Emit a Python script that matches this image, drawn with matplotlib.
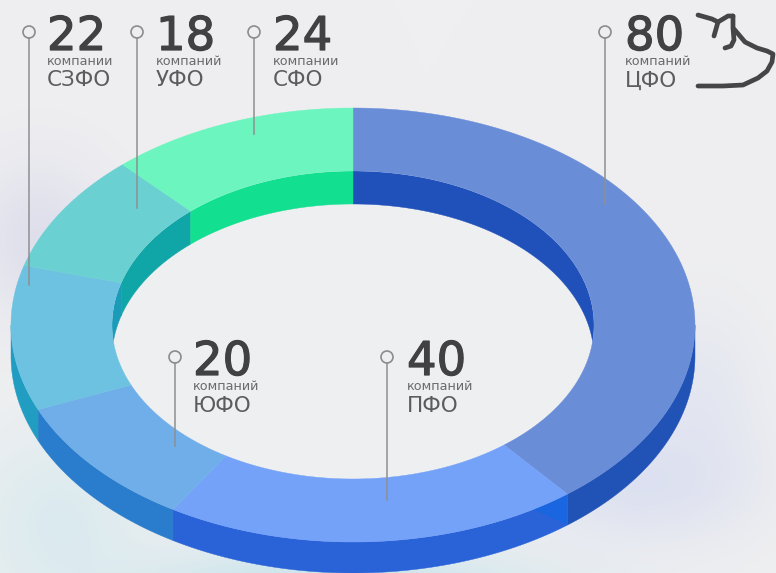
import matplotlib
matplotlib.use("Agg")
import matplotlib.pyplot as plt
import matplotlib.patheffects as pe
from matplotlib.patches import Polygon, Ellipse
import numpy as np

# clockwise from the top of the ring
regions = ["ЦФО", "ПФО", "ЮФО", "СЗФО", "УФО", "СФО"]
companies = [80, 40, 20, 22, 18, 24]
unit_words = ["компаний", "компаний", "компаний", "компании", "компаний", "компании"]

top_colors = ["#6a8dd8", "#74a2f9", "#70aeea", "#6cc2e0", "#6bd0d2", "#6cf5bf"]
outer_colors = ["#2152b6", "#2a62d8", "#2a7ccc", "#229dc2", "#229dc2", "#12df90"]
inner_colors = ["#2050ba", "#2050ba", "#2050ba", "#1a9cb8", "#10a6a8", "#12df90"]

# ring geometry in pixels of the picture
cx, cy = 353, 325
outer_rx, outer_ry = 342, 217
inner_rx, inner_ry = 241, 154
depth_outer = 31
depth_inner = 33

# pin x, pin y, line end y, number x
pins = {
    "ЦФО": (605, 32, 204, 625),
    "ПФО": (387, 357, 500, 407),
    "ЮФО": (175, 357, 446, 193),
    "СЗФО": (29, 32, 285, 47),
    "УФО": (137, 32, 208, 156),
    "СФО": (254, 32, 134, 273),
}

scribble = [
    [(698, 15), (705, 17), (712, 19), (718, 22), (723, 19), (728, 16), (733, 16)],
    [(718, 22), (716, 29), (714, 36)],
    [(733, 16), (733, 28), (734, 40), (731, 46), (725, 48)],
    [(734, 29), (745, 42), (757, 48), (767, 51), (773, 54), (772, 62), (767, 71),
     (758, 78), (743, 85), (723, 86), (698, 86)],
]


def ellipse_arc(a0, a1, rx, ry, dy=0):
    # angles in degrees, clockwise, 0 at the top
    t = np.radians(np.linspace(a0, a1, 120))
    return np.column_stack((cx + rx * np.sin(t), cy - ry * np.cos(t) + dy))


def make_background():
    base = np.array([239, 239, 241]) / 255
    yy, xx = np.mgrid[0:573, 0:776]
    glows = [
        (330, 590, 210, 45, "#bfe2ea", 0.85),
        (60, 520, 90, 90, "#cfe8ee", 0.6),
        (640, 480, 110, 60, "#d6dcf0", 0.75),
        (700, 400, 60, 90, "#dadff0", 0.5),
        (40, 240, 70, 80, "#d8d9ea", 0.7),
    ]
    img = np.ones((573, 776, 3)) * base
    for gx, gy, sx, sy, color, weight in glows:
        g = weight * np.exp(-((xx - gx) / sx) ** 2 - ((yy - gy) / sy) ** 2)
        rgb = np.array(matplotlib.colors.to_rgb(color))
        img = img + g[..., None] * (rgb - img)
    return img


def main():
    fig = plt.figure(figsize=(7.76, 5.73), dpi=100)
    ax = fig.add_axes([0, 0, 1, 1])
    ax.imshow(make_background(), extent=(0, 776, 573, 0), aspect="auto", zorder=0)
    ax.set_xlim(0, 776)
    ax.set_ylim(573, 0)
    ax.axis("off")

    # hole of the ring stays plain
    hole = Ellipse((cx, cy), 2 * inner_rx, 2 * inner_ry, fc="#eeeff1", ec="none", zorder=1)
    ax.add_patch(hole)

    edges = np.concatenate(([0], np.cumsum(companies))) * 360 / np.sum(companies)

    for i in range(len(regions)):
        a0, a1 = edges[i], edges[i + 1]

        # front outer wall, only the lower half is seen
        w0, w1 = max(a0, 90), min(a1, 270)
        if w1 > w0:
            top = ellipse_arc(w0, w1, outer_rx, outer_ry)
            bottom = ellipse_arc(w1, w0, outer_rx, outer_ry, depth_outer)
            ax.add_patch(Polygon(np.vstack((top, bottom)), fc=outer_colors[i], ec=outer_colors[i],
                                 lw=0.3, zorder=2))

        # inner wall, only the upper half is seen
        for w0, w1 in ((a0, min(a1, 90)), (max(a0, 270), a1)):
            if w1 > w0:
                top = ellipse_arc(w0, w1, inner_rx, inner_ry)
                bottom = ellipse_arc(w1, w0, inner_rx, inner_ry, depth_inner)
                p = Polygon(np.vstack((top, bottom)), fc=inner_colors[i], ec=inner_colors[i],
                            lw=0.3, zorder=2)
                ax.add_patch(p)
                p.set_clip_path(hole)

        # top face
        outer = ellipse_arc(a0, a1, outer_rx, outer_ry)
        inner = ellipse_arc(a1, a0, inner_rx, inner_ry)
        ax.add_patch(Polygon(np.vstack((outer, inner)), fc=top_colors[i], ec=top_colors[i],
                             lw=0.3, zorder=3))

    # brighter wedge at the end of the ПФО wall
    edge = edges[1]
    top = ellipse_arc(edge, edge + 7, outer_rx, outer_ry)
    bottom = ellipse_arc(edge, edge, outer_rx, outer_ry, depth_outer)
    ax.add_patch(Polygon(np.vstack((top, bottom)), fc="#1a66e0", ec="none", zorder=2.5))

    for i, name in enumerate(regions):
        px, py, end, tx = pins[name]
        ax.plot([px, px], [py + 6, end], color="#8f8f92", lw=1.1, zorder=4)
        ax.add_patch(Ellipse((px, py), 12, 12, fc="none", ec="#8c8c8c", lw=1.2, zorder=4))
        base = py + 18
        t = ax.text(tx, base, str(companies[i]), fontsize=33.5, color="#414143",
                    ha="left", va="baseline", family="DejaVu Sans", zorder=5)
        t.set_path_effects([pe.withStroke(linewidth=0.9, foreground="#414143")])
        ax.text(tx, base + 15, unit_words[i], fontsize=9.2, color="#6a6a6c",
                ha="left", va="baseline", family="DejaVu Sans", zorder=5)
        ax.text(tx, base + 36.5, name, fontsize=15.5, color="#5c5c5e",
                ha="left", va="baseline", family="DejaVu Sans", zorder=5)

    for stroke in scribble:
        xs, ys = zip(*stroke)
        ax.plot(xs, ys, color="#454547", lw=3.4, solid_capstyle="round",
                solid_joinstyle="round", zorder=5)

    fig.savefig("out.png", dpi=100)


if __name__ == "__main__":
    main()
